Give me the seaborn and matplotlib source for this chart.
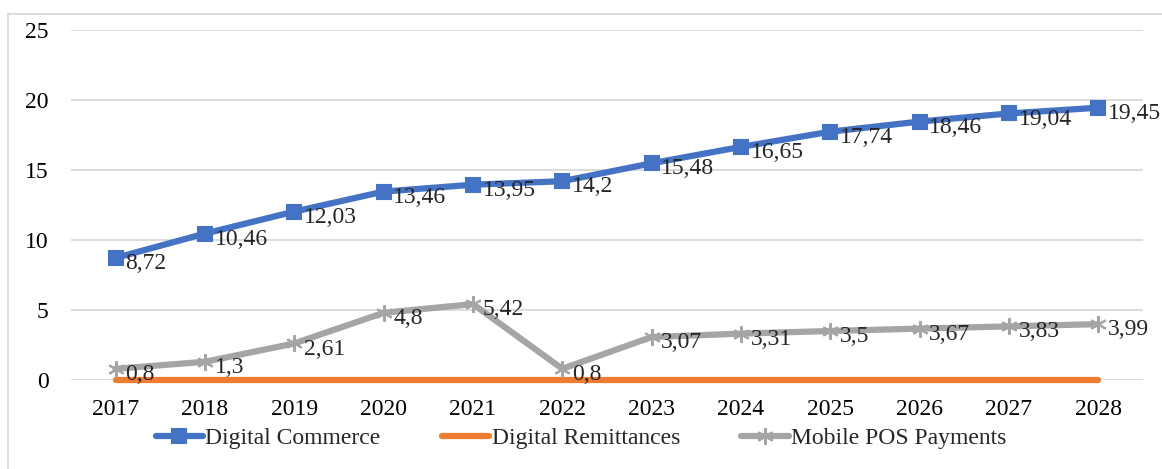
import pandas as pd
import seaborn as sns
import matplotlib.pyplot as plt
from matplotlib.patches import Rectangle

years = [2017, 2018, 2019, 2020, 2021, 2022, 2023, 2024, 2025, 2026, 2027, 2028]
digital_commerce = [8.72, 10.46, 12.03, 13.46, 13.95, 14.2, 15.48, 16.65, 17.74, 18.46, 19.04, 19.45]
digital_remittances = [0, 0, 0, 0, 0, 0, 0, 0, 0, 0, 0, 0]
mobile_pos = [0.8, 1.3, 2.61, 4.8, 5.42, 0.8, 3.07, 3.31, 3.5, 3.67, 3.83, 3.99]

series = ['Digital Commerce', 'Digital Remittances', 'Mobile POS Payments']
values = [digital_commerce, digital_remittances, mobile_pos]

sns.set_style('white')
plt.rcParams['font.family'] = ['Liberation Serif', 'DejaVu Serif']

colors = {'Digital Commerce': '#4472C4', 'Digital Remittances': '#ED7D31', 'Mobile POS Payments': '#A5A5A5'}
markers = {'Digital Commerce': 's', 'Digital Remittances': None, 'Mobile POS Payments': (6, 2, 0)}
msizes = {'Digital Commerce': 10, 'Digital Remittances': 0, 'Mobile POS Payments': 12}
fs = 17

fig = plt.figure(figsize=(11.62, 4.69), dpi=100)
ax = fig.add_axes([0.0611, 0.1898, 0.9225, 0.7462])

for s, v in zip(series, values):
    d = pd.DataFrame({'pos': range(len(years)), 'value': v})
    sns.lineplot(data=d, x='pos', y='value', color=colors[s], marker=markers[s],
                 markersize=msizes[s], markeredgecolor=colors[s], markeredgewidth=1.5,
                 lw=4.5, solid_capstyle='round', ax=ax, label=s, legend=False, clip_on=False)

ax.set_xlim(-0.5, len(years) - 0.5)
ax.set_ylim(0, 25)
ax.set_yticks([0, 5, 10, 15, 20, 25])
ax.set_xticks(range(len(years)))
ax.set_xticklabels([str(y) for y in years])
ax.tick_params(axis='both', length=0, labelsize=fs, colors='black')
ax.tick_params(axis='y', pad=16)
ax.tick_params(axis='x', pad=14)
ax.grid(axis='y', color='#D9D9D9', lw=1.3)
ax.set_axisbelow(True)
for sp in ax.spines.values():
    sp.set_visible(False)
ax.set_xlabel('')
ax.set_ylabel('')

def fmt(v):
    return ('%g' % v).replace('.', ',')

for vals in [digital_commerce, mobile_pos]:
    for i, v in enumerate(vals):
        ax.annotate(fmt(v), (i, v), xytext=(7, -4), textcoords='offset points',
                    ha='left', va='center', fontsize=fs, annotation_clip=False)

handles = [plt.Line2D([], [], color=colors[s], lw=4.5, marker=markers[s],
                      markersize=msizes[s], markeredgecolor=colors[s], markeredgewidth=1.5,
                      solid_capstyle='round')
           for s in series]
fig.legend(handles, series, loc='center', bbox_to_anchor=(0.5, 1 - 438 / 469), ncol=3,
           frameon=False, fontsize=fs, handlelength=2.0, handletextpad=0.1, columnspacing=2.6)

fig.patches.append(Rectangle((8 / 1162, -0.05), 1.1, 1 - 14 / 469 + 0.05, transform=fig.transFigure,
                             fill=False, edgecolor='#D9D9D9', lw=1.3))

fig.savefig('out.png', dpi=100)
